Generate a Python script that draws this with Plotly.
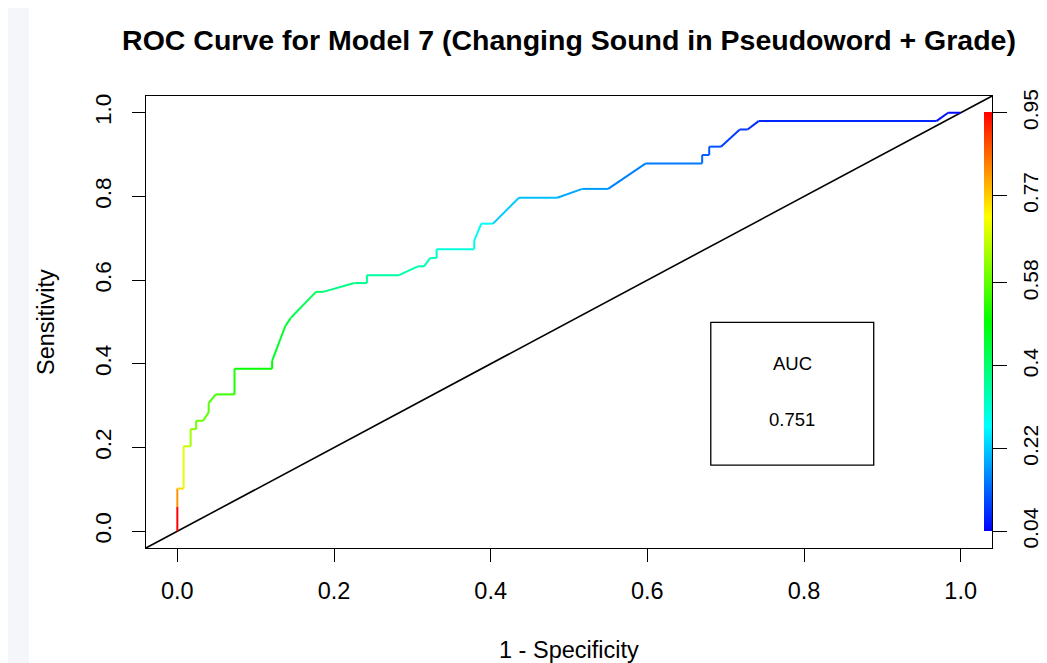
import colorsys
import plotly.graph_objects as go

# ---------------- data ----------------
TITLE = "ROC Curve for Model 7 (Changing Sound in Pseudoword + Grade)"
X_LABEL = "1 - Specificity"
Y_LABEL = "Sensitivity"
AUC_LABEL = "AUC"
AUC_VALUE = 0.751

fpr = [0.0, 0.0, 0.0, 0.008, 0.008, 0.017, 0.017, 0.024, 0.024, 0.033,
       0.040, 0.040, 0.049, 0.073, 0.073, 0.121, 0.121, 0.138, 0.145, 0.177,
       0.186, 0.226, 0.242, 0.242, 0.283, 0.307, 0.315, 0.323, 0.331, 0.331,
       0.379, 0.379, 0.388, 0.403, 0.436, 0.485, 0.517, 0.550, 0.598, 0.670,
       0.670, 0.679, 0.679, 0.694, 0.718, 0.728, 0.742, 0.969, 0.984, 1.0]
tpr = [0.0, 0.058, 0.102, 0.102, 0.203, 0.203, 0.244, 0.244, 0.264, 0.264,
       0.284, 0.306, 0.327, 0.327, 0.388, 0.388, 0.407, 0.491, 0.510, 0.572,
       0.572, 0.593, 0.593, 0.612, 0.612, 0.633, 0.633, 0.653, 0.653, 0.674,
       0.674, 0.694, 0.735, 0.735, 0.797, 0.797, 0.818, 0.818, 0.879, 0.879,
       0.899, 0.899, 0.919, 0.919, 0.960, 0.960, 0.980, 0.980, 1.0, 1.0]
cutoff = [0.95, 0.95, 0.82, 0.76, 0.70, 0.67, 0.64, 0.62, 0.60, 0.59,
          0.58, 0.57, 0.56, 0.55, 0.52, 0.50, 0.49, 0.46, 0.45, 0.42,
          0.41, 0.38, 0.37, 0.36, 0.35, 0.34, 0.335, 0.33, 0.32, 0.31,
          0.30, 0.29, 0.28, 0.27, 0.22, 0.21, 0.19, 0.18, 0.155, 0.15,
          0.13, 0.125, 0.12, 0.115, 0.095, 0.09, 0.08, 0.075, 0.055, 0.045]

axis_ticks = [0.0, 0.2, 0.4, 0.6, 0.8, 1.0]
axis_tick_text = ["0.0", "0.2", "0.4", "0.6", "0.8", "1.0"]
cutoff_ticks = [0.04, 0.22, 0.4, 0.58, 0.77, 0.95]
cutoff_tick_text = ["0.04", "0.22", "0.4", "0.58", "0.77", "0.95"]
CUT_MIN, CUT_MAX = 0.04, 0.95

# ---------------- styling / geometry ----------------
AX_MIN, AX_MAX = -0.04, 1.04
FONT = "Liberation Sans, Arial, Helvetica, sans-serif"
BODY = 8                       # default page margin of the html body
W, H = 1047 - BODY, 663 - BODY
PLOT_L, PLOT_R, PLOT_T, PLOT_B = 146, 992, 96, 548   # wanted page pixels
ML, MT = PLOT_L - BODY, PLOT_T - BODY
MR, MB = W - (PLOT_R - BODY), H - (PLOT_B - BODY)
PW, PH = W - ML - MR, H - MT - MB


def px_x(px):   # page pixel -> paper x
    return (px - PLOT_L) / PW


def px_y(py):   # page pixel -> paper y
    return (PLOT_B - py) / PH


def rainbow(c):
    f = (c - CUT_MIN) / (CUT_MAX - CUT_MIN)
    f = min(1.0, max(0.0, f))
    r, g, b = colorsys.hsv_to_rgb((1 - f) * 240 / 360, 1, 1)
    return f"rgb({round(r*255)},{round(g*255)},{round(b*255)})"


colorscale = []
for k in range(9):
    r, g, b = colorsys.hsv_to_rgb((240 - 30 * k) / 360, 1, 1)
    colorscale.append([k / 8, f"rgb({round(r*255)},{round(g*255)},{round(b*255)})"])

fig = go.Figure()

# diagonal reference line
fig.add_trace(go.Scatter(x=[AX_MIN, AX_MAX], y=[AX_MIN, AX_MAX], mode="lines",
                         line=dict(color="black", width=1.6), hoverinfo="skip",
                         showlegend=False))

# colourised ROC curve
for i in range(len(fpr) - 1):
    fig.add_trace(go.Scatter(x=[fpr[i], fpr[i + 1]], y=[tpr[i], tpr[i + 1]],
                             mode="lines",
                             line=dict(color=rainbow(cutoff[i + 1]), width=2),
                             showlegend=False, hoverinfo="skip"))

# invisible trace carrying the colour bar (cutoff axis on the right)
bar_len = (1.0 - 0.0) / (AX_MAX - AX_MIN) * PH
bar_mid = (0.5 - AX_MIN) / (AX_MAX - AX_MIN)
fig.add_trace(go.Scatter(
    x=fpr, y=cutoff, yaxis="y2", mode="markers",
    marker=dict(size=0.1, opacity=0, color=cutoff, colorscale=colorscale,
                cmin=CUT_MIN, cmax=CUT_MAX, showscale=True,
                colorbar=dict(x=px_x(984), xanchor="left", xpad=0,
                              y=bar_mid, yanchor="middle", ypad=0,
                              len=bar_len, lenmode="pixels", thickness=8,
                              thicknessmode="pixels", outlinewidth=0,
                              ticks="", showticklabels=False)),
    showlegend=False, hoverinfo="skip"))

scale = CUT_MAX - CUT_MIN
y2_range = [CUT_MIN + AX_MIN * scale, CUT_MIN + AX_MAX * scale]

fig.update_layout(
    width=W, height=H, autosize=False,
    margin=dict(l=ML, r=MR, t=MT, b=MB, autoexpand=False),
    paper_bgcolor="white", plot_bgcolor="white",
    font=dict(family=FONT, color="black"),
    title=dict(text=f"<b>{TITLE}</b>", x=0.5, xref="paper", xanchor="center",
               y=1 - (40 - BODY) / H, yanchor="middle",
               font=dict(size=28.5, family=FONT, color="black")),
    xaxis=dict(range=[AX_MIN, AX_MAX], tickvals=axis_ticks, ticktext=axis_tick_text,
               showline=True, mirror=True, linecolor="black", linewidth=1.3,
               ticks="outside", ticklen=13, tickwidth=1.2, tickcolor="black",
               ticklabelstandoff=9,
               showgrid=False, zeroline=False, tickfont=dict(size=23.5)),
    yaxis=dict(range=[AX_MIN, AX_MAX], tickvals=axis_ticks, ticktext=axis_tick_text,
               showline=True, mirror=True, linecolor="black", linewidth=1.3,
               ticks="outside", ticklen=13, tickwidth=1.2, tickcolor="black",
               tickangle=-90, ticklabelstandoff=12,
               showgrid=False, zeroline=False, tickfont=dict(size=22.5)),
    yaxis2=dict(range=y2_range, overlaying="y", side="right", anchor="x",
                tickvals=cutoff_ticks, ticktext=cutoff_tick_text,
                ticks="outside", ticklen=14, tickwidth=1.2, tickcolor="black",
                tickangle=-90, ticklabelstandoff=6,
                showline=False, showgrid=False, zeroline=False,
                tickfont=dict(size=21)),
    showlegend=False,
)

# light page strip on the far left
fig.add_shape(type="rect", xref="paper", yref="paper",
              x0=px_x(BODY), x1=px_x(29), y0=px_y(663), y1=px_y(BODY),
              line=dict(width=0), fillcolor="#f5f6f9", layer="below")

# AUC box
fig.add_shape(type="rect", xref="x", yref="y", x0=0.681, x1=0.889, y0=0.158, y1=0.499,
              line=dict(color="black", width=1.3))
fig.add_annotation(x=0.785, y=0.400, xref="x", yref="y", text=AUC_LABEL,
                   showarrow=False, font=dict(size=18.5))
fig.add_annotation(x=0.785, y=0.268, xref="x", yref="y", text=f"{AUC_VALUE:.3f}",
                   showarrow=False, font=dict(size=18.5))

# axis titles
fig.add_annotation(x=0.5, y=px_y(650), xref="paper", yref="paper",
                   text=X_LABEL, showarrow=False, font=dict(size=23.5),
                   xanchor="center", yanchor="middle")
fig.add_annotation(x=px_x(46), y=0.5, xref="paper", yref="paper",
                   text=Y_LABEL, showarrow=False, font=dict(size=23.5), textangle=-90,
                   xanchor="center", yanchor="middle")

fig.write_html("out.html")
